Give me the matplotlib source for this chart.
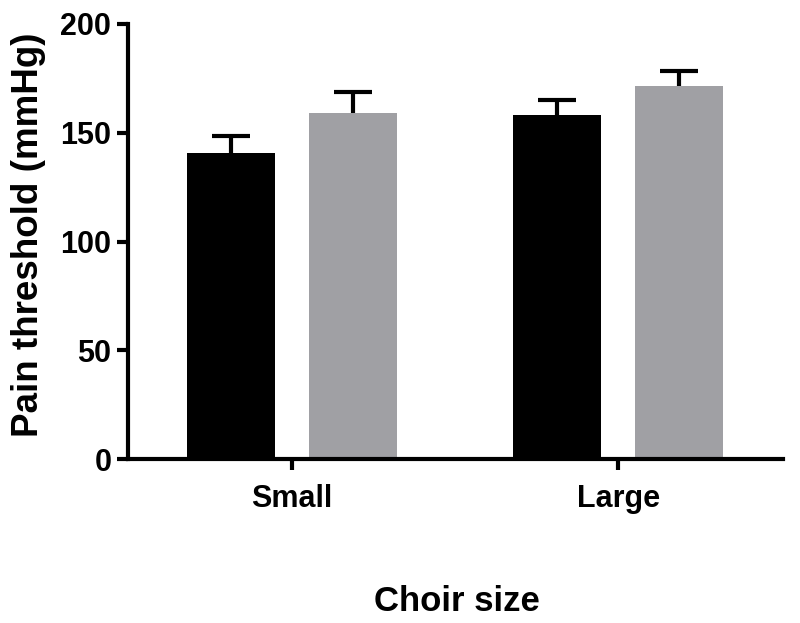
import matplotlib.pyplot as plt
import numpy as np

plt.rcParams['font.family'] = ['Liberation Sans', 'DejaVu Sans']
plt.rcParams['font.weight'] = 'bold'

groups = ["Small", "Large"]
series_a = [140.8, 158.3]   # black bars
series_a_err = [7.8, 6.6]
series_b = [159.2, 171.6]   # grey bars
series_b_err = [9.7, 6.9]
y_ticks = [0, 50, 100, 150, 200]

fig = plt.figure(figsize=(8, 6.23), dpi=100)
ax = fig.add_axes([0.16, 0.2632, 0.819, 0.6983])

x = np.arange(len(groups))
offset = 0.1875
width = 0.27

# error bars drawn behind the bars, so only the upper half shows
err_style = dict(fmt="none", ecolor="black", elinewidth=3, capsize=14,
                 capthick=3, zorder=1)
ax.errorbar(x - offset, series_a, yerr=series_a_err, **err_style)
ax.errorbar(x + offset, series_b, yerr=series_b_err, **err_style)
ax.bar(x - offset, series_a, width, color="black", zorder=2)
ax.bar(x + offset, series_b, width, color="#a0a0a4", zorder=2)

ax.set_xlim(-0.503, 1.506)
ax.set_ylim(0, 200)
ax.set_yticks(y_ticks)
ax.set_xticks(x)
ax.set_xticklabels(groups)

for side in ["top", "right"]:
    ax.spines[side].set_visible(False)
for side in ["left", "bottom"]:
    ax.spines[side].set_linewidth(3)
    ax.spines[side].set_zorder(3)

ax.tick_params(axis="both", width=3, length=8, labelsize=22, pad=4)
ax.tick_params(axis="x", pad=10)

ax.set_ylabel("Pain threshold (mmHg)", fontsize=26.5, fontweight="bold")
ax.yaxis.set_label_coords(-0.125, 0.515)
fig.text(0.571, 0.035, "Choir size", fontsize=25, fontweight="bold",
         ha="center", va="center")

fig.savefig("out.png", dpi=100)
